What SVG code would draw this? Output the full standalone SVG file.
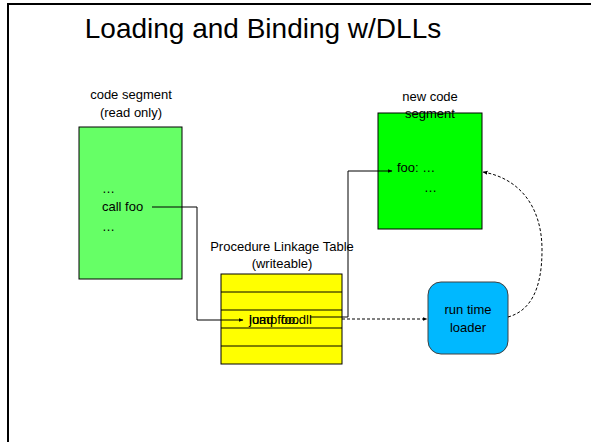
<svg xmlns="http://www.w3.org/2000/svg" width="591" height="442" viewBox="0 0 591 442">
<defs>
<style>
text{font-family:"Liberation Sans",Arial,sans-serif;fill:#000;}
.lbl{font-size:13px;text-anchor:middle;}
.code{font-size:13px;}
.box{stroke:#000;stroke-width:1;}
.ln{fill:none;stroke:#000;stroke-width:1;}
.dash{fill:none;stroke:#000;stroke-width:1;stroke-dasharray:3,2;}
</style>
<marker id="ah" viewBox="0 0 10 10" refX="9" refY="5" markerWidth="5" markerHeight="5" orient="auto" markerUnits="userSpaceOnUse">
<path d="M0,1 L10,5 L0,9 z" fill="#000"/>
</marker>
</defs>
<rect x="0" y="0" width="591" height="442" fill="#fff"/>
<rect x="8" y="4" width="620" height="480" fill="none" stroke="#000" stroke-width="2"/>
<text x="263" y="38" font-size="28" text-anchor="middle">Loading and Binding w/DLLs</text>

<g id="code-segment">
<text class="lbl" x="131" y="99">code segment</text>
<text class="lbl" x="131" y="117">(read only)</text>
<rect class="box" x="79" y="127" width="103" height="152" fill="#66ff66"/>
<text class="code" x="102" y="193">…</text>
<text class="code" x="102" y="211">call foo</text>
<text class="code" x="102" y="231">…</text>
</g>

<g id="plt">
<text class="lbl" x="282" y="251">Procedure Linkage Table</text>
<text class="lbl" x="282" y="268">(writeable)</text>
<rect class="box" x="221" y="274" width="121" height="90" fill="#ffff00"/>
<path class="ln" d="M221,292H342M221,310H342M221,328H342M221,346H342"/>
<text class="code" x="249" y="324">jump foo</text>
<text class="code" x="249" y="324">load foo.dll</text>
</g>

<g id="new-code-segment">
<rect class="box" x="378" y="113" width="104" height="116" fill="#00ff00"/>
<text class="lbl" x="430" y="101">new code</text>
<text class="lbl" x="430" y="118">segment</text>
<text class="code" x="397" y="172">foo:  …</text>
<text class="code" x="424" y="192">…</text>
</g>

<g id="loader">
<rect x="428" y="282" width="80" height="72" rx="13" fill="#00b8ff" stroke="#404040" stroke-width="1"/>
<text class="lbl" x="468" y="314">run time</text>
<text class="lbl" x="468" y="332">loader</text>
</g>

<g id="connectors">
<path class="ln" d="M152,207H197V320H243" marker-end="url(#ah)"/>
<path class="ln" stroke="#555" d="M310,317H348V171H392" marker-end="url(#ah)"/>
<path class="dash" d="M342,319H427" marker-end="url(#ah)"/>
<path class="dash" d="M508,317C530,311 542,290 542,250C542,205 518,178 483,172" marker-end="url(#ah)"/>
</g>
</svg>
